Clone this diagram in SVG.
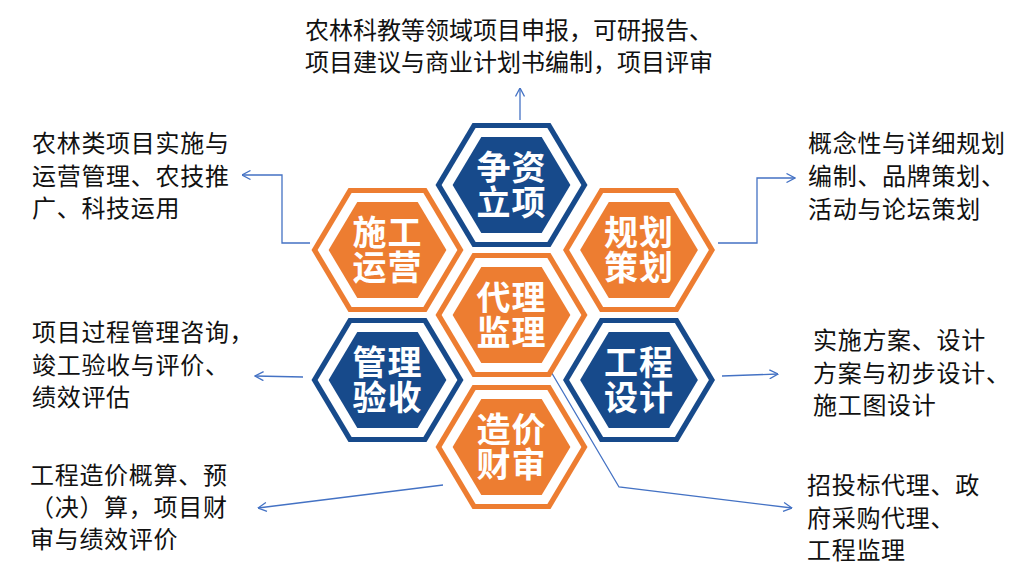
<svg xmlns="http://www.w3.org/2000/svg" xmlns:xlink="http://www.w3.org/1999/xlink" width="1030" height="579" viewBox="0 0 1030 579">
<style>
.o{fill:#ED7D31}
.b{fill:#174A8B}
.w{fill:#FFFFFF}
.ht{font-family:"Noto Sans CJK SC","Noto Sans",sans-serif;font-weight:bold;font-size:34px;fill:#FFFFFF;text-anchor:middle;letter-spacing:1px}
.lbl{font-family:"Noto Sans CJK SC","Noto Sans",sans-serif;font-size:24px;fill:#111111;letter-spacing:0.7px}
.top{letter-spacing:0px}
.c{fill:none;stroke:#4472C4;stroke-width:1.3}
</style>
<defs>
<polygon id="h0" points="-76,0 -39,-62 39,-62 76,0 39,62 -39,62"/>
<polygon id="h1" points="-69.9,0 -35.9,-57 35.9,-57 69.9,0 35.9,57 -35.9,57"/>
<polygon id="h2" points="-58.9,0 -30.2,-48 30.2,-48 58.9,0 30.2,48 -30.2,48"/>
<marker id="arr" viewBox="0 0 10 10" refX="9.5" refY="5" markerWidth="10" markerHeight="10" markerUnits="userSpaceOnUse" orient="auto">
<path d="M1,0.5 L9.5,5 L1,9.5" fill="none" stroke="#4472C4" stroke-width="1.3"/>
</marker>
</defs>

<g id="connectors">
<path class="c" d="M520,120 L520,88" marker-end="url(#arr)"/>
<path class="c" d="M310,243 L282,243 L282,175 L242,175" marker-end="url(#arr)"/>
<path class="c" d="M718,243 L757,243 L757,178 L795,178" marker-end="url(#arr)"/>
<path class="c" d="M303,377 L255,376" marker-end="url(#arr)"/>
<path class="c" d="M722,376 L778,374" marker-end="url(#arr)"/>
<path class="c" d="M443,485 L258,508" marker-end="url(#arr)"/>
<path class="c" d="M550,370 L619,487 L792,508" marker-end="url(#arr)"/>
</g>

<g id="node-zhengzi" transform="translate(511.5,185)">
<use xlink:href="#h0" class="b"/><use xlink:href="#h1" class="w"/><use xlink:href="#h2" class="b"/>
<text class="ht"><tspan x="0" y="-5">争资</tspan><tspan x="0" y="30">立项</tspan></text>
</g>
<g id="node-shigong" transform="translate(387.5,250)">
<use xlink:href="#h0" class="o"/><use xlink:href="#h1" class="w"/><use xlink:href="#h2" class="o"/>
<text class="ht"><tspan x="0" y="-5">施工</tspan><tspan x="0" y="30">运营</tspan></text>
</g>
<g id="node-guihua" transform="translate(639,250)">
<use xlink:href="#h0" class="o"/><use xlink:href="#h1" class="w"/><use xlink:href="#h2" class="o"/>
<text class="ht"><tspan x="0" y="-5">规划</tspan><tspan x="0" y="30">策划</tspan></text>
</g>
<g id="node-daili" transform="translate(511.5,315)">
<use xlink:href="#h0" class="o"/><use xlink:href="#h1" class="w"/><use xlink:href="#h2" class="o"/>
<text class="ht"><tspan x="0" y="-5">代理</tspan><tspan x="0" y="30">监理</tspan></text>
</g>
<g id="node-guanli" transform="translate(387.5,380)">
<use xlink:href="#h0" class="b"/><use xlink:href="#h1" class="w"/><use xlink:href="#h2" class="b"/>
<text class="ht"><tspan x="0" y="-5">管理</tspan><tspan x="0" y="30">验收</tspan></text>
</g>
<g id="node-gongcheng" transform="translate(639,380)">
<use xlink:href="#h0" class="b"/><use xlink:href="#h1" class="w"/><use xlink:href="#h2" class="b"/>
<text class="ht"><tspan x="0" y="-5">工程</tspan><tspan x="0" y="30">设计</tspan></text>
</g>
<g id="node-zaojia" transform="translate(511.5,447)">
<use xlink:href="#h0" class="o"/><use xlink:href="#h1" class="w"/><use xlink:href="#h2" class="o"/>
<text class="ht"><tspan x="0" y="-5">造价</tspan><tspan x="0" y="30">财审</tspan></text>
</g>

<g id="label-top">
<text class="lbl top"><tspan x="305" y="39">农林科教等领域项目申报，可研报告、</tspan><tspan x="305" y="71">项目建议与商业计划书编制，项目评审</tspan></text>
</g>
<g id="label-left-upper">
<text class="lbl"><tspan x="32" y="152">农林类项目实施与</tspan><tspan x="32" y="185">运营管理、农技推</tspan><tspan x="32" y="217">广、科技运用</tspan></text>
</g>
<g id="label-right-upper">
<text class="lbl"><tspan x="808" y="152">概念性与详细规划</tspan><tspan x="808" y="185">编制、品牌策划、</tspan><tspan x="808" y="218">活动与论坛策划</tspan></text>
</g>
<g id="label-left-middle">
<text class="lbl"><tspan x="32" y="341">项目过程管理咨询，</tspan><tspan x="32" y="374">竣工验收与评价、</tspan><tspan x="32" y="406">绩效评估</tspan></text>
</g>
<g id="label-right-middle">
<text class="lbl"><tspan x="813" y="349">实施方案、设计</tspan><tspan x="813" y="382">方案与初步设计、</tspan><tspan x="813" y="414">施工图设计</tspan></text>
</g>
<g id="label-left-lower">
<text class="lbl"><tspan x="30" y="484">工程造价概算、预</tspan><tspan x="30" y="516">（决）算，项目财</tspan><tspan x="30" y="548">审与绩效评价</tspan></text>
</g>
<g id="label-right-lower">
<text class="lbl"><tspan x="807" y="494">招投标代理、政</tspan><tspan x="807" y="527">府采购代理、</tspan><tspan x="807" y="559">工程监理</tspan></text>
</g>
</svg>
